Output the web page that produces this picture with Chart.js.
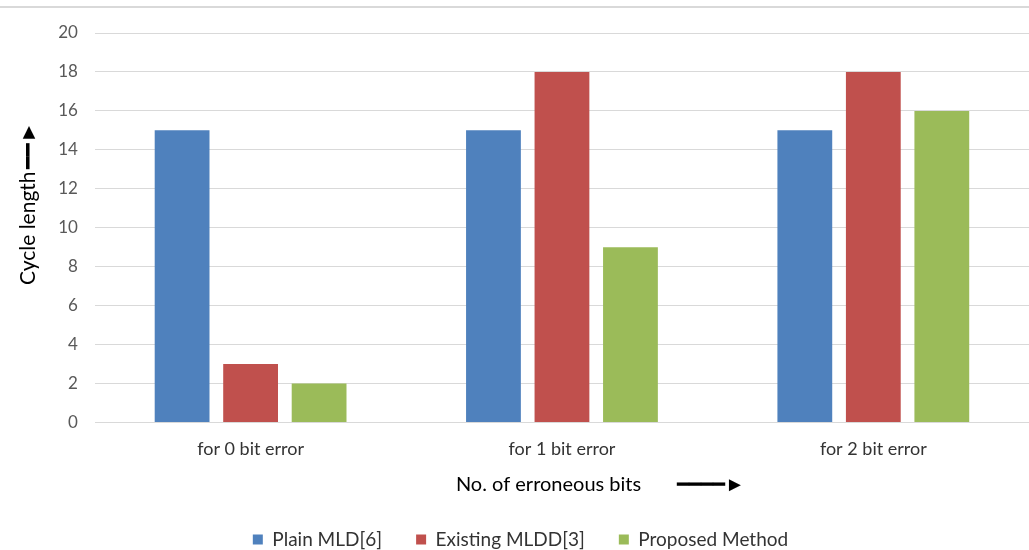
<!DOCTYPE html>
<html>
<head>
<meta charset="utf-8">
<script src="https://cdn.jsdelivr.net/npm/chart.js@4"></script>
<style>
  html, body { margin: 0; padding: 0; background: #fff; }
  #wrap { position: relative; width: 1029px; height: 550px; }
  #topline { position: absolute; left: 0; top: 6px; width: 1029px; height: 0; border-top: 2px solid #d9d9d9; }
</style>
</head>
<body>
<div id="wrap">
  <div id="topline"></div>
  <canvas id="myChart" width="1029" height="550"></canvas>
</div>
<script>
// categories and series
const categories = ['for 0 bit error', 'for 1 bit error', 'for 2 bit error'];
const plainMLD = [15, 15, 15];
const existingMLDD = [3, 18, 18];
const proposed = [2, 9, 16];
const yTicks = [0, 2, 4, 6, 8, 10, 12, 14, 16, 18, 20];

const font = "Lato, 'Open Sans', sans-serif";
const pad = (n) => ' '.repeat(n);

const ctx = document.getElementById('myChart').getContext('2d');

new Chart(ctx, {
  type: 'bar',
  data: {
    labels: categories,
    datasets: [
      { label: 'Plain MLD[6]', data: plainMLD, backgroundColor: '#4F81BD' },
      { label: 'Existing MLDD[3]', data: existingMLDD, backgroundColor: '#C0504D' },
      { label: 'Proposed Method', data: proposed, backgroundColor: '#9BBB59' }
    ]
  },
  options: {
    responsive: false,
    animation: false,
    categoryPercentage: 0.66,
    barPercentage: 0.8,
    layout: { padding: { top: 33, right: 0, left: 12, bottom: -9 } },
    plugins: {
      tooltip: { enabled: false },
      legend: {
        position: 'bottom',
        labels: {
          boxWidth: 10,
          boxHeight: 10,
          padding: 34,
          color: '#333',
          font: { family: font, size: 19 }
        }
      }
    },
    scales: {
      x: {
        grid: { display: false },
        border: { display: false },
        ticks: { color: '#333', font: { family: font, size: 18 }, padding: 8 },
        title: {
          display: true,
          text: pad(15) + 'No. of erroneous bits' + pad(7) + '\u2501\u2501\u2501\u2501\u25BA',
          color: '#000',
          font: { family: font, size: 20 },
          padding: { top: 5, bottom: -1 }
        }
      },
      y: {
        min: 0,
        max: 20,
        afterBuildTicks: (axis) => { axis.ticks = yTicks.map(v => ({ value: v })); },
        grid: { color: '#d9d9d9', lineWidth: 1, drawTicks: false },
        border: { display: false },
        ticks: { color: '#595959', font: { family: font, size: 17 }, padding: 17 },
        title: {
          display: true,
          text: pad(9) + 'Cycle length\u2009' + '\u2501\u2501\u25BA',
          color: '#000',
          font: { family: font, size: 21 },
          padding: { bottom: 0 }
        }
      }
    }
  }
});
</script>
</body>
</html>
